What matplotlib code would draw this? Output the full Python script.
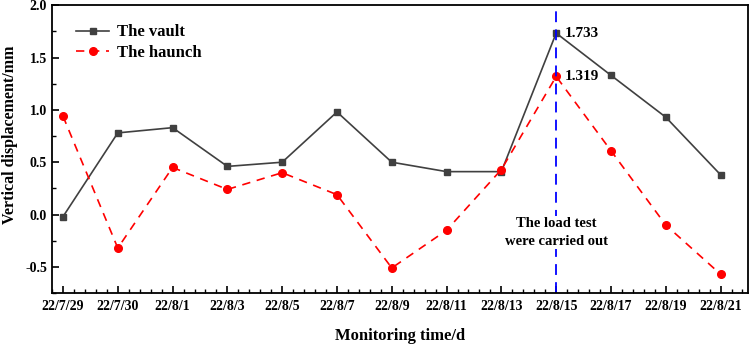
import numpy as np
import matplotlib
matplotlib.use("Agg")
import matplotlib.pyplot as plt
from matplotlib.ticker import MultipleLocator

# data
dates = ["22/7/29", "22/7/30", "22/8/1", "22/8/3", "22/8/5", "22/8/7", "22/8/9",
         "22/8/11", "22/8/13", "22/8/15", "22/8/17", "22/8/19", "22/8/21"]
vault = [-0.02, 0.78, 0.83, 0.46, 0.50, 0.98, 0.50, 0.41, 0.41, 1.733, 1.33, 0.93, 0.38]
haunch = [0.94, -0.32, 0.45, 0.24, 0.40, 0.19, -0.51, -0.15, 0.43, 1.319, 0.61, -0.10, -0.57]
test_idx = 9

plt.rcParams["font.family"] = ["Liberation Serif", "DejaVu Serif"]
plt.rcParams["font.weight"] = "bold"
plt.rcParams["axes.unicode_minus"] = False

fig = plt.figure(figsize=(7.54, 3.44), dpi=100)
ax = fig.add_axes([0.069, 0.148, 0.923, 0.837])

x = np.arange(len(dates))
ax.plot(x, vault, color="#404040", lw=1.2, marker="s", ms=5, label="The vault")
ax.plot(x, haunch, color="red", lw=1.2, ls=(0, (5, 4)), marker="o", ms=5.5, label="The haunch")
ax.axvline(test_idx, color="blue", lw=1.3, ls=(0, (6, 4)))

ax.text(test_idx + 0.15, vault[test_idx], f"{vault[test_idx]:.3f}", fontsize=11,
        fontweight="bold", va="center", ha="left")
ax.text(test_idx + 0.15, haunch[test_idx], f"{haunch[test_idx]:.3f}", fontsize=11,
        fontweight="bold", va="center", ha="left")
ax.text(test_idx, -0.17, "The load test\nwere carried out", fontsize=10.5,
        fontweight="bold", ha="center", va="center", linespacing=1.45,
        bbox=dict(facecolor="white", edgecolor="none", pad=1))

ax.set_xlim(-0.2, 12.5)
ax.set_ylim(-0.75, 2.0)
ax.set_xticks(x)
ax.set_xticklabels(dates)
ax.xaxis.set_minor_locator(MultipleLocator(0.2))
ax.yaxis.set_major_locator(MultipleLocator(0.5))
ax.yaxis.set_minor_locator(MultipleLocator(0.25))
ax.tick_params(which="both", direction="in", top=False, right=False, labelsize=10)
ax.tick_params(axis="x", which="major", pad=5)
ax.tick_params(which="major", length=5, width=1.2)
ax.tick_params(which="minor", length=3, width=1)
for lab in ax.get_xticklabels() + ax.get_yticklabels():
    lab.set_fontweight("bold")
for s in ax.spines.values():
    s.set_linewidth(1.3)

ax.set_xlabel("Monitoring time/d", fontsize=12, fontweight="bold")
ax.set_ylabel("Vertical displacement/mm", fontsize=11.5, fontweight="bold")
# label positions in axes fraction, taken from the reference layout
ax.xaxis.set_label_coords(0.5, -0.12)
ax.yaxis.set_label_coords(-0.049, 0.55)

leg = ax.legend(loc="upper left", bbox_to_anchor=(0.013, 0.985), frameon=False,
                prop={"size": 12, "weight": "bold"}, handlelength=2.0,
                handletextpad=0.45, labelspacing=0.28)

fig.savefig("out.png", dpi=100)
